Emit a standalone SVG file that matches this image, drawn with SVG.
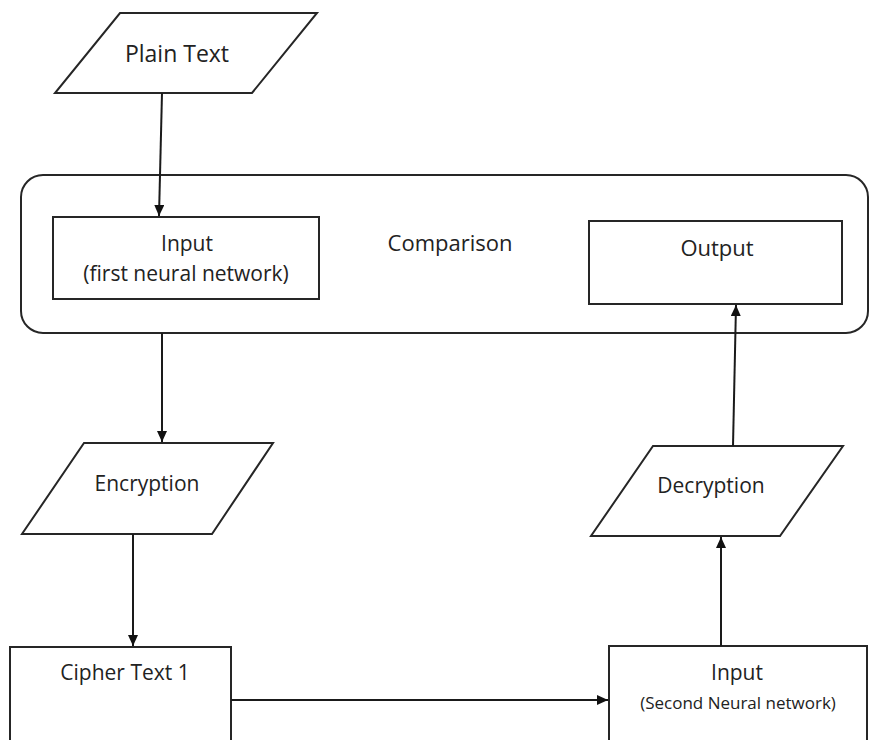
<svg xmlns="http://www.w3.org/2000/svg" width="869" height="740" viewBox="0 0 869 740">
<defs>
<style>
.shape{fill:#fff;stroke:#262626;stroke-width:2}
.conn{fill:none;stroke:#1a1a1a;stroke-width:2}
text{font-family:"Open Sans","Liberation Sans",sans-serif;fill:#222;text-anchor:middle}
.t22{font-size:22px}
.t21{font-size:21px}
.t17{font-size:17px}
</style>
<marker id="arr" markerUnits="userSpaceOnUse" markerWidth="12" markerHeight="12" refX="11" refY="5" orient="auto">
<path d="M0,0 L11,5 L0,10 Z" fill="#111"/>
</marker>
</defs>
<rect width="869" height="740" fill="#fff"/>
<g id="comparison">
<rect class="shape" x="21" y="175" width="847" height="158" rx="22" ry="22"/>
<text class="t22" x="450" y="251">Comparison</text>
</g>
<g id="plain-text">
<polygon class="shape" points="120,13 317,13 252,93 55,93"/>
<text class="t22" x="177" y="62" style="font-size:23px">Plain Text</text>
</g>
<g id="input1">
<rect class="shape" x="53" y="217" width="266" height="82"/>
<text class="t21" x="187" y="251">Input</text>
<text class="t21" x="186" y="281">(first neural network)</text>
</g>
<g id="output">
<rect class="shape" x="589" y="221" width="253" height="83"/>
<text class="t22" x="717" y="256">Output</text>
</g>
<g id="encryption">
<polygon class="shape" points="84,443 273,443 212,534 22,534"/>
<text class="t21" x="147" y="491">Encryption</text>
</g>
<g id="decryption">
<polygon class="shape" points="653,446 843,446 780,536 591,536"/>
<text class="t21" x="711" y="493">Decryption</text>
</g>
<g id="cipher">
<rect class="shape" x="10" y="647" width="221" height="110"/>
<text class="t21" x="125" y="680">Cipher Text 1</text>
</g>
<g id="input2">
<rect class="shape" x="609" y="646" width="258" height="110"/>
<text class="t21" x="737" y="680">Input</text>
<text class="t17" x="738" y="709">(Second Neural network)</text>
</g>
<g id="connectors">
<line class="conn" x1="162" y1="93" x2="159" y2="216" marker-end="url(#arr)"/>
<line class="conn" x1="162" y1="333" x2="162" y2="442" marker-end="url(#arr)"/>
<line class="conn" x1="133" y1="534" x2="133" y2="646" marker-end="url(#arr)"/>
<line class="conn" x1="231" y1="700" x2="608" y2="700" marker-end="url(#arr)"/>
<line class="conn" x1="721" y1="646" x2="721" y2="537" marker-end="url(#arr)"/>
<line class="conn" x1="733" y1="446" x2="736" y2="305" marker-end="url(#arr)"/>
</g>
</svg>
